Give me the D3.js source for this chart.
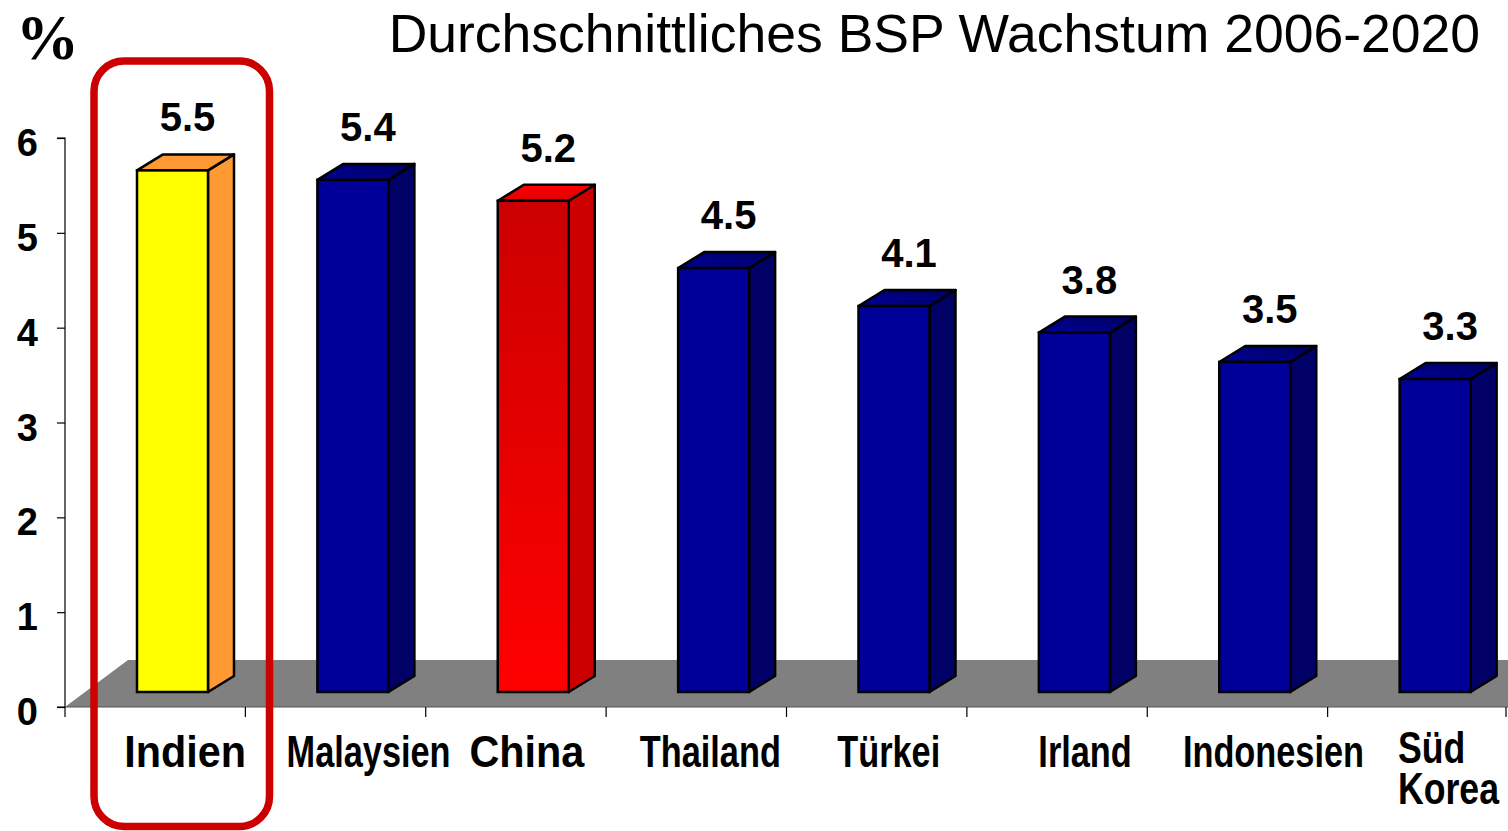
<!DOCTYPE html>
<html>
<head>
<meta charset="utf-8">
<script src="https://cdn.jsdelivr.net/npm/d3@7"></script>
<style>
  html, body { margin: 0; padding: 0; background: #fff; }
  svg { display: block; font-family: "Liberation Sans", Arial, sans-serif; }
</style>
</head>
<body>
<svg id="chart" width="1508" height="831"></svg>
<script>
// ---- data ----
const categories = ["Indien", "Malaysien", "China", "Thailand", "Türkei", "Irland", "Indonesien", "Süd Korea"];
const values = [5.5, 5.4, 5.18, 4.47, 4.07, 3.79, 3.48, 3.3];
const valueLabels = ["5.5", "5.4", "5.2", "4.5", "4.1", "3.8", "3.5", "3.3"];
const yTicks = [0, 1, 2, 3, 4, 5, 6];
const titleText = "Durchschnittliches BSP Wachstum 2006-2020";
const unitText = "%";

// ---- layout / style (not data) ----
const W = 1508, H = 831;
const plotLeft = 65, plotRight = 1508;
const depthX = 26, depthY = -16;       // bar depth
const floorShift = 15;                  // bars stand 15px behind the axis line
const barOffset = 72, barWidth = 71;
const labelShift = [30, 33, 11, 14, 12, 28, 36, 0];
const labelScale = [0.94, 0.78, 0.94, 0.78, 0.78, 0.78, 0.78, 0.81];
const palette = {
  Indien: { front: "#FFFF00", side: "#FF9933", top: "#FF9933" },
  China: { front: "url(#gFrontRed)", side: "#CC0000", top: "url(#gTopRed)" },
  other: { front: "#000099", side: "#000066", top: "url(#gTopBlue)" }
};

const svg = d3.select("#chart");
const defs = svg.append("defs");
function linGrad(id, x1, y1, x2, y2, stops) {
  const g = defs.append("linearGradient").attr("id", id)
    .attr("x1", x1).attr("y1", y1).attr("x2", x2).attr("y2", y2);
  stops.forEach(s => g.append("stop").attr("offset", s[0]).attr("stop-color", s[1]));
}
linGrad("gFrontRed", 0, 0, 0, 1, [[0, "#CC0000"], [1, "#FF0000"]]);
linGrad("gTopRed", 0, 1, 0, 0, [[0, "#DD0000"], [1, "#FF0000"]]);
linGrad("gTopBlue", 0, 1, 1, 0, [[0, "#000099"], [1, "#000060"]]);

const x = d3.scaleBand().domain(categories).range([plotLeft, plotRight]).paddingInner(0).paddingOuter(0);
const y = d3.scaleLinear().domain([0, 6]).range([707, 138]);
const yBar = v => y(v) - floorShift;

// floor
const floorTop = y(0) - 47;
svg.append("polygon")
  .attr("points", [[plotLeft, y(0)], [plotLeft + 63, floorTop], [W, floorTop], [W, y(0)]].map(p => p.join(",")).join(" "))
  .attr("fill", "#808080");

// y axis
const yAxis = d3.axisLeft(y).tickValues(yTicks).tickSize(8).tickFormat("");
const ga = svg.append("g").attr("transform", `translate(${plotLeft},0)`).call(yAxis);
ga.select(".domain").attr("stroke", "#000").attr("stroke-width", 1.2).attr("d", `M-8,${y(6)}H0V${y(0)}H-8`);
ga.selectAll(".tick line").attr("stroke", "#000").attr("stroke-width", 1.2);
svg.append("g").selectAll("text").data(yTicks).join("text")
  .attr("x", 38).attr("y", d => y(d) + 18)
  .attr("text-anchor", "end")
  .attr("font-size", 38).attr("font-weight", "bold").attr("fill", "#000")
  .text(d => d);

// x axis
const xAxis = d3.axisBottom(x).tickSize(10).tickFormat("");
const gx = svg.append("g").attr("transform", `translate(0,${y(0)})`).call(xAxis);
gx.select(".domain").attr("stroke", "#555").attr("stroke-width", 1.2).attr("d", `M${plotLeft},0H${W}`);
gx.selectAll(".tick").remove();
const boundaries = d3.range(categories.length).map(i => x(categories[i]));
svg.append("g").selectAll("line").data(boundaries.concat([plotLeft + x.bandwidth() * categories.length - 2])).join("line")
  .attr("x1", d => d).attr("x2", d => d)
  .attr("y1", y(0)).attr("y2", y(0) + 10)
  .attr("stroke", "#000").attr("stroke-width", 1.2);

// bars
const bars = svg.append("g").selectAll("g").data(categories).join("g");
bars.each(function (c, i) {
  const g = d3.select(this);
  const col = palette[c] || palette.other;
  const x0 = x(c) + barOffset, x1 = x0 + barWidth;
  const yt = yBar(values[i]), yb = yBar(0);
  const pts = a => a.map(p => p.join(",")).join(" ");
  g.append("polygon")
    .attr("points", pts([[x1, yt], [x1 + depthX, yt + depthY], [x1 + depthX, yb + depthY], [x1, yb]]))
    .attr("fill", col.side).attr("stroke", "#000").attr("stroke-width", 2.5).attr("stroke-linejoin", "round");
  g.append("polygon")
    .attr("points", pts([[x0, yt], [x0 + depthX, yt + depthY], [x1 + depthX, yt + depthY], [x1, yt]]))
    .attr("fill", col.top).attr("stroke", "#000").attr("stroke-width", 2.5).attr("stroke-linejoin", "round");
  g.append("rect")
    .attr("x", x0).attr("y", yt).attr("width", barWidth).attr("height", yb - yt)
    .attr("fill", col.front).attr("stroke", "#000").attr("stroke-width", 2.5);
  g.append("text")
    .attr("x", x0 + barWidth / 2 + 15).attr("y", yt - 39)
    .attr("text-anchor", "middle").attr("font-size", 40).attr("font-weight", "bold").attr("fill", "#000")
    .text(valueLabels[i]);
});

// category labels
categories.forEach((c, i) => {
  const cx = x(c) + x.bandwidth() / 2 + labelShift[i];
  const words = c.split(" ");
  if (words.length > 1) {
    words.forEach((w, k) => svg.append("text")
      .attr("font-size", 44).attr("font-weight", "bold").attr("fill", "#000")
      .attr("transform", `translate(1398,${763 + k * 41}) scale(${labelScale[i]},1)`)
      .text(w));
  } else {
    svg.append("text")
      .attr("transform", `translate(${cx},767) scale(${labelScale[i]},1)`)
      .attr("text-anchor", "middle").attr("font-size", 44).attr("font-weight", "bold").attr("fill", "#000")
      .text(c);
  }
});

// title and unit
svg.append("text").attr("x", 1480).attr("y", 52).attr("text-anchor", "end")
  .attr("font-size", 53.5).attr("fill", "#000").text(titleText);
svg.append("text").attr("x", 16).attr("y", 59)
  .attr("font-family", "'Liberation Serif', 'Times New Roman', serif")
  .attr("font-size", 63).attr("font-weight", "bold").attr("fill", "#000").text(unitText);

// highlight box around Indien
svg.append("rect")
  .attr("x", x("Indien") + 29).attr("y", 61)
  .attr("width", 175.5).attr("height", 765.5)
  .attr("rx", 30).attr("ry", 30)
  .attr("fill", "none").attr("stroke", "#CC0000").attr("stroke-width", 7.5);
</script>
</body>
</html>
